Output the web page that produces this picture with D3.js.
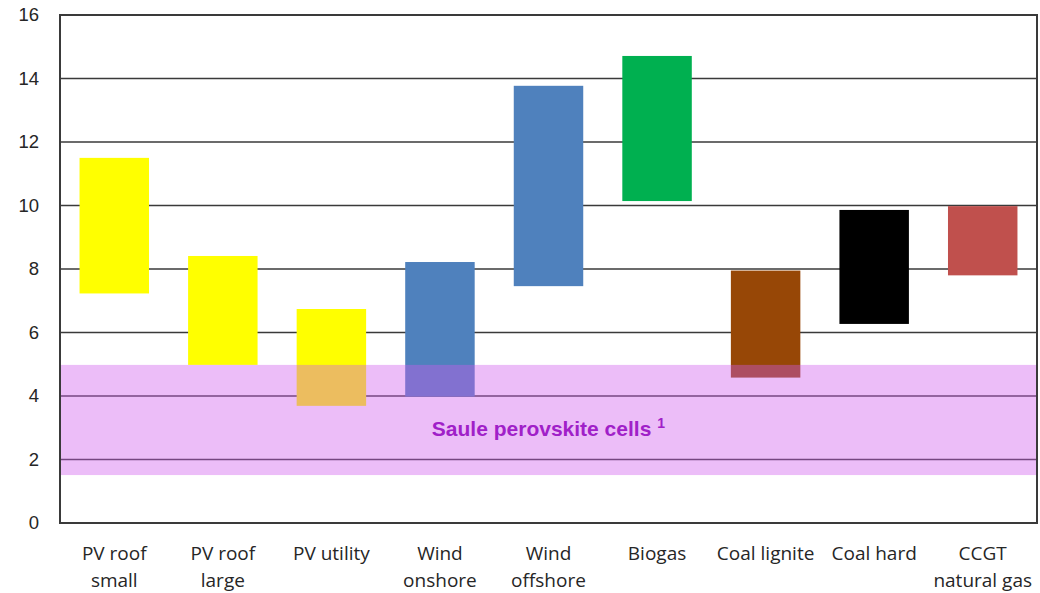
<!DOCTYPE html>
<html>
<head>
<meta charset="utf-8">
<script src="https://cdn.jsdelivr.net/npm/d3@7"></script>
<style>
  body { margin: 0; background: #fff; }
  svg text { font-family: "Liberation Sans", Arial, sans-serif; }
</style>
</head>
<body>
<svg id="chart" width="1040" height="593"></svg>
<script>
// data
const categories = ['PV roof small', 'PV roof large', 'PV utility', 'Wind onshore', 'Wind offshore',
  'Biogas', 'Coal lignite', 'Coal hard', 'CCGT natural gas'];
const labelLines = [['PV roof', 'small'], ['PV roof', 'large'], ['PV utility'], ['Wind', 'onshore'],
  ['Wind', 'offshore'], ['Biogas'], ['Coal lignite'], ['Coal hard'], ['CCGT', 'natural gas']];
const lowValues = [7.23, 4.98, 3.69, 3.98, 7.46, 10.14, 4.58, 6.27, 7.8];
const highValues = [11.5, 8.41, 6.74, 8.22, 13.77, 14.71, 7.95, 9.86, 9.98];
const barColors = ['#ffff00', '#ffff00', '#ffff00', '#4f81bd', '#4f81bd', '#00b050', '#974706', '#000000', '#c0504d'];
const yTicks = [0, 2, 4, 6, 8, 10, 12, 14, 16];
const bandRange = [1.51, 4.98];
const bandLabel = 'Saule perovskite cells';

const svg = d3.select('#chart');
const plotL = 60, plotR = 1037, plotT = 15, plotB = 523;

const x = d3.scaleBand().domain(categories).range([plotL, plotR]).paddingInner(0.36).paddingOuter(0.18);
const y = d3.scaleLinear().domain([0, 16]).range([plotB, plotT]);

// gridlines
svg.append('g')
  .selectAll('line')
  .data(yTicks.filter(t => t > 0 && t < 16))
  .enter()
  .append('line')
  .attr('x1', plotL).attr('x2', plotR)
  .attr('y1', d => y(d)).attr('y2', d => y(d))
  .attr('stroke', '#3a3a3a')
  .attr('stroke-width', 1.6);

// range bars
svg.append('g')
  .selectAll('rect')
  .data(categories)
  .enter()
  .append('rect')
  .attr('x', d => x(d))
  .attr('width', x.bandwidth())
  .attr('y', (d, i) => y(highValues[i]))
  .attr('height', (d, i) => y(lowValues[i]) - y(highValues[i]))
  .attr('fill', (d, i) => barColors[i]);

// translucent perovskite band on top
svg.append('rect')
  .attr('x', plotL)
  .attr('width', plotR - plotL)
  .attr('y', y(bandRange[1]))
  .attr('height', y(bandRange[0]) - y(bandRange[1]))
  .attr('fill', 'rgb(208,89,238)')
  .attr('fill-opacity', 0.4);

const lbl = svg.append('text')
  .attr('x', (x('Wind onshore') + x('Biogas') + x.bandwidth()) / 2)
  .attr('y', 436)
  .attr('text-anchor', 'middle')
  .attr('fill', '#a020c8')
  .attr('font-weight', 'bold')
  .attr('font-size', 21)
  .text(bandLabel);
lbl.append('tspan')
  .attr('font-size', 14)
  .attr('dx', 6)
  .attr('dy', -8)
  .text('1');

// frame
svg.append('rect')
  .attr('x', plotL).attr('y', plotT)
  .attr('width', plotR - plotL).attr('height', plotB - plotT)
  .attr('fill', 'none')
  .attr('stroke', '#3a3a3a')
  .attr('stroke-width', 2);

// y axis labels
const yAxis = svg.append('g')
  .attr('transform', `translate(${plotL},0)`)
  .call(d3.axisLeft(y).tickValues(yTicks).tickSize(0).tickPadding(21).tickFormat(d3.format('d')));
yAxis.select('.domain').remove();
yAxis.selectAll('text')
  .attr('font-size', 18.5)
  .attr('font-family', '"Liberation Sans", Arial, sans-serif')
  .attr('fill', '#262626');

// x axis labels
const xLabels = svg.append('g')
  .selectAll('text')
  .data(categories)
  .enter()
  .append('text')
  .attr('x', d => x(d) + x.bandwidth() / 2)
  .attr('y', 560)
  .attr('text-anchor', 'middle')
  .attr('fill', '#262626')
  .attr('font-size', 19)
  .style('font-family', '"Liberation Sans Narrow", "Open Sans", sans-serif');

xLabels.selectAll('tspan')
  .data((d, i) => labelLines[i])
  .enter()
  .append('tspan')
  .attr('x', function() { return this.parentNode.getAttribute('x'); })
  .attr('dy', (d, i) => i === 0 ? 0 : 27)
  .text(d => d);
</script>
</body>
</html>
